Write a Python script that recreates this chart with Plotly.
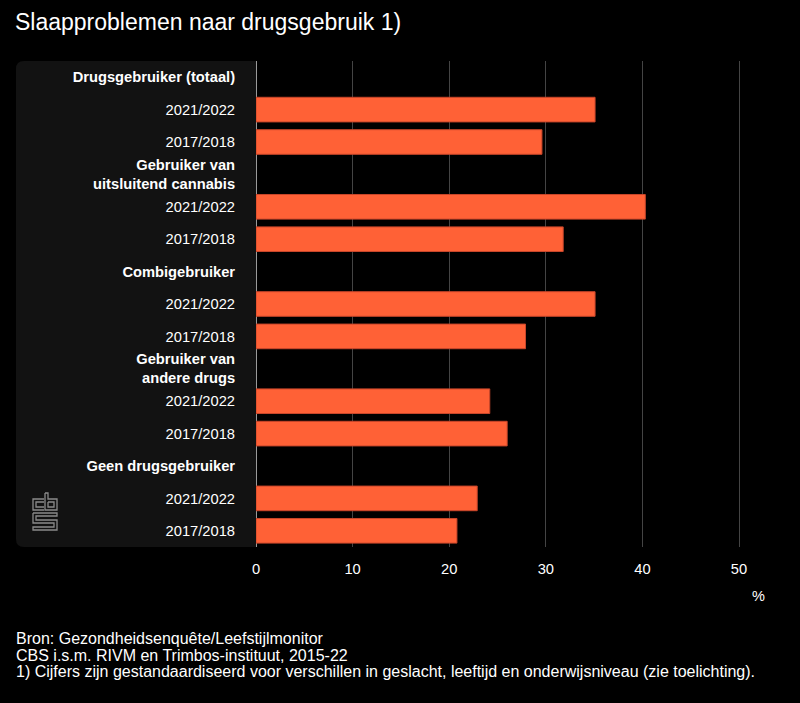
import plotly.graph_objects as go

# ---- data ----
groups = ["Drugsgebruiker (totaal)", "Gebruiker van<br>uitsluitend cannabis",
          "Combigebruiker", "Gebruiker van<br>andere drugs", "Geen drugsgebruiker"]
periods = ["2021/2022", "2017/2018"]
values_2021 = [35.1, 40.3, 35.1, 24.2, 22.9]
values_2017 = [29.6, 31.8, 27.9, 26.0, 20.8]
x_ticks = [0, 10, 20, 30, 40, 50]

title = "Slaapproblemen naar drugsgebruik 1)"
source_lines = ["Bron: Gezondheidsenquête/Leefstijlmonitor",
                "CBS i.s.m. RIVM en Trimbos-instituut, 2015-22"]
footnote = "1) Cijfers zijn gestandaardiseerd voor verschillen in geslacht, leeftijd en onderwijsniveau (zie toelichting)."

# ---- build categorical rows ----
cats, labels, xs = [], [], []
for i, g in enumerate(groups):
    cats.append(f"h{i}")
    labels.append(f"<b>{g}</b>")
    xs.append(None)
    for p, v in zip(periods, [values_2021[i], values_2017[i]]):
        cats.append(f"{i}|{p}")
        labels.append(p)
        xs.append(v)

W, H = 800, 703
ML, MR, MT, MB = 256, 30, 61, 156
PW, PH = W - ML - MR, H - MT - MB

def px(x):
    return (x - ML) / PW

def py(y):
    return (H - MB - y) / PH

FONT = "Liberation Sans, Arial, sans-serif"

fig = go.Figure(go.Bar(
    y=cats, x=xs, orientation="h",
    marker=dict(color="#ff6136", line=dict(color="#c8462a", width=1)),
    width=0.76, hoverinfo="x+y",
))

# rounded label panel
x0, x1, y0, y1, r = px(16), px(256), py(547), py(61), 8
rx, ry = r / PW, r / PH
panel = (f"M {x1},{y0} L {x0+rx},{y0} Q {x0},{y0} {x0},{y0+ry} "
         f"L {x0},{y1-ry} Q {x0},{y1} {x0+rx},{y1} L {x1},{y1} Z")

shapes = [dict(type="path", xref="paper", yref="paper", path=panel,
               fillcolor="#121212", line=dict(width=0), layer="below")]

# cbs logo (line art)
logo_paths = [
    [(44, 499), (33, 499), (33, 510), (44, 510)],
    [(44, 502), (36, 502), (36, 507), (44, 507)],
    [(45, 493), (45, 510), (57, 510), (57, 499), (48, 499), (48, 493), (45, 493)],
    [(48, 502), (54, 502), (54, 507), (48, 507), (48, 502)],
    [(33, 513), (57, 513), (57, 516), (36, 516), (36, 520), (57, 520), (57, 530),
     (33, 530), (33, 527), (54, 527), (54, 523), (33, 523), (33, 513)],
]
for pts in logo_paths:
    d = "M " + " L ".join(f"{px(a)},{py(b)}" for a, b in pts)
    shapes.append(dict(type="path", xref="paper", yref="paper", path=d,
                       line=dict(color="#8a8a8a", width=1.3)))

annotations = [
    dict(text="%", xref="paper", yref="paper", x=px(758), y=py(596),
         showarrow=False, font=dict(size=14.5, color="white", family=FONT),
         xanchor="center", yanchor="middle"),
]
for t, yy in zip(source_lines + [footnote], [638, 655, 671]):
    annotations.append(dict(text=t, xref="paper", yref="paper", x=px(14), y=py(yy),
                            showarrow=False, xanchor="left", yanchor="middle",
                            font=dict(size=16, color="white", family=FONT)))

fig.update_layout(
    width=W, height=H,
    margin=dict(l=ML, r=MR, t=MT, b=MB),
    paper_bgcolor="black", plot_bgcolor="rgba(0,0,0,0)",
    font=dict(family=FONT, color="white", size=14.7),
    title=dict(text=title, x=15 / W, xanchor="left", y=1 - 22 / H, yanchor="middle",
               font=dict(size=23, color="white", family=FONT)),
    showlegend=False,
    shapes=shapes, annotations=annotations,
    bargap=0.24,
)
fig.update_xaxes(range=[0, PW / 96.6 * 10], tickvals=x_ticks, showgrid=True,
                 gridcolor="#444444", gridwidth=1, zeroline=True,
                 zerolinecolor="#9a9a9a", zerolinewidth=1,
                 ticks="outside", ticklen=8, tickcolor="rgba(0,0,0,0)",
                 tickfont=dict(size=14.7, color="white"), fixedrange=True)
fig.update_yaxes(type="category", categoryorder="array", categoryarray=cats,
                 tickvals=cats, ticktext=labels, autorange="reversed",
                 ticks="outside", ticklen=17, tickcolor="rgba(0,0,0,0)",
                 tickfont=dict(size=14.7, color="white"), showgrid=False,
                 fixedrange=True)

fig.write_html("out.html", config={"displayModeBar": False},
               post_script="document.body.style.margin='0';document.body.style.background='black';")
